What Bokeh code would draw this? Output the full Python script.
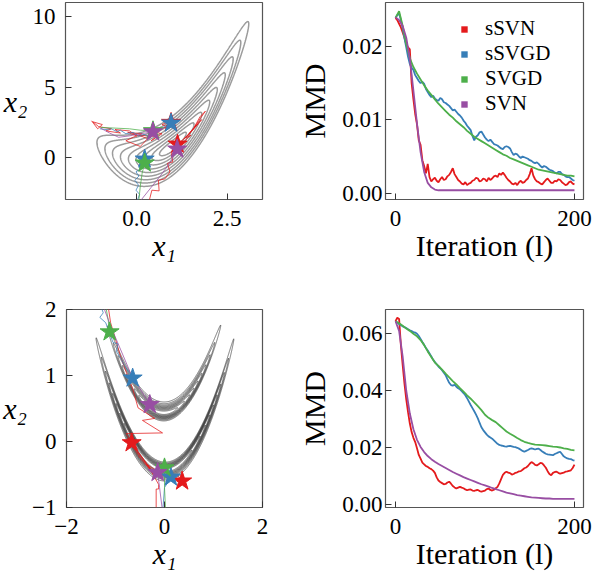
import numpy as np
from bokeh.plotting import figure
from bokeh.layouts import row, column
from bokeh.models import Range1d, FixedTicker, NumeralTickFormatter, Legend, LegendItem
from bokeh.embed import file_html
from bokeh.resources import INLINE

RED, BLUE, GREEN, PURPLE = "#e41a1c", "#377eb8", "#4daf4a", "#984ea3"
SERIF = "Liberation Serif"
methods = ["sSVN", "sSVGD", "SVGD", "SVN"]
colors = [RED, BLUE, GREEN, PURPLE]

# ---------------- MMD data ----------------
iters = list(range(0, 201, 4))        # smooth deterministic methods
iters_fine = list(range(0, 201, 2))   # noisy stochastic methods

mmd_top_sSVN = [0.0239, 0.0236, 0.0231, 0.0226, 0.0219, 0.0212, 0.0203, 0.0199, 0.0196, 0.0150,
                0.0128, 0.0108, 0.0094, 0.0072, 0.0066, 0.0045, 0.0037, 0.0027, 0.0040, 0.0022,
                0.0016, 0.0019, 0.0021, 0.0017, 0.0015, 0.0019, 0.0022, 0.0018, 0.0019, 0.0023,
                0.0025, 0.0029, 0.0034, 0.0026, 0.0022, 0.0018, 0.0016, 0.0013, 0.0012, 0.0015,
                0.0011, 0.0013, 0.0014, 0.0017, 0.0018, 0.0021, 0.0020, 0.0016, 0.0017, 0.0020,
                0.0019, 0.0016, 0.0021, 0.0018, 0.0020, 0.0023, 0.0024, 0.0022, 0.0027, 0.0025,
                0.0028, 0.0025, 0.0021, 0.0018, 0.0016, 0.0013, 0.0012, 0.0014, 0.0011, 0.0015,
                0.0017, 0.0014, 0.0015, 0.0018, 0.0020, 0.0026, 0.0034, 0.0024, 0.0019, 0.0016,
                0.0015, 0.0013, 0.0012, 0.0015, 0.0018, 0.0020, 0.0017, 0.0014, 0.0014, 0.0017,
                0.0016, 0.0019, 0.0018, 0.0015, 0.0013, 0.0011, 0.0012, 0.0015, 0.0016, 0.0013,
                0.0012]
mmd_top_sSVGD = [0.0239, 0.0243, 0.0245, 0.0236, 0.0225, 0.0211, 0.0199, 0.0186, 0.0176, 0.0171,
                 0.0168, 0.0161, 0.0157, 0.0153, 0.0150, 0.0152, 0.0149, 0.0142, 0.0138, 0.0134,
                 0.0131, 0.0133, 0.0129, 0.0127, 0.0126, 0.0130, 0.0128, 0.0124, 0.0123, 0.0121,
                 0.0119, 0.0116, 0.0113, 0.0114, 0.0111, 0.0108, 0.0106, 0.0103, 0.0099, 0.0096,
                 0.0092, 0.0089, 0.0086, 0.0078, 0.0072, 0.0077, 0.0079, 0.0083, 0.0084, 0.0080,
                 0.0076, 0.0073, 0.0071, 0.0073, 0.0070, 0.0067, 0.0066, 0.0065, 0.0063, 0.0061,
                 0.0060, 0.0063, 0.0064, 0.0063, 0.0061, 0.0056, 0.0052, 0.0054, 0.0053, 0.0050,
                 0.0048, 0.0050, 0.0049, 0.0048, 0.0047, 0.0045, 0.0044, 0.0042, 0.0041, 0.0042,
                 0.0040, 0.0037, 0.0035, 0.0037, 0.0036, 0.0034, 0.0032, 0.0031, 0.0030, 0.0028,
                 0.0027, 0.0029, 0.0029, 0.0026, 0.0025, 0.0023, 0.0022, 0.0022, 0.0020, 0.0018,
                 0.0017]
mmd_top_SVGD = [0.0239, 0.0248, 0.0228, 0.0203, 0.0184, 0.0172, 0.0163, 0.0155, 0.0147, 0.0140,
                0.0134, 0.0128, 0.0122, 0.0117, 0.0112, 0.0107, 0.0103, 0.0098, 0.0094, 0.0090,
                0.0085, 0.0081, 0.0077, 0.0074, 0.0071, 0.0068, 0.0065, 0.0062, 0.0059, 0.0056,
                0.0053, 0.0051, 0.0048, 0.0046, 0.0044, 0.0042, 0.0040, 0.0038, 0.0036, 0.0034,
                0.0032, 0.0031, 0.0030, 0.0029, 0.0028, 0.0027, 0.0026, 0.0025, 0.0024, 0.0024,
                0.0023]
mmd_top_SVN = [0.0240, 0.0236, 0.0228, 0.0212, 0.0183, 0.0140, 0.0095, 0.0056, 0.0029, 0.0014,
               0.0008, 0.0005, 0.0004, 0.0004, 0.0004, 0.0004, 0.0004, 0.0004, 0.0004, 0.0004,
               0.0004, 0.0004, 0.0004, 0.0004, 0.0004, 0.0004, 0.0004, 0.0004, 0.0004, 0.0004,
               0.0004, 0.0004, 0.0004, 0.0004, 0.0004, 0.0004, 0.0004, 0.0004, 0.0004, 0.0004,
               0.0004, 0.0004, 0.0004, 0.0004, 0.0004, 0.0004, 0.0004, 0.0004, 0.0004, 0.0004,
               0.0004]

mmd_bot_sSVN = [0.0644, 0.0656, 0.0652, 0.0560, 0.0490, 0.0425, 0.0370, 0.0325, 0.0285, 0.0255,
                0.0235, 0.0220, 0.0198, 0.0175, 0.0162, 0.0148, 0.0142, 0.0136, 0.0133, 0.0128,
                0.0125, 0.0120, 0.0112, 0.0096, 0.0085, 0.0080, 0.0076, 0.0072, 0.0073, 0.0078,
                0.0081, 0.0074, 0.0066, 0.0061, 0.0057, 0.0060, 0.0063, 0.0060, 0.0058, 0.0054,
                0.0051, 0.0053, 0.0054, 0.0050, 0.0049, 0.0051, 0.0052, 0.0048, 0.0046, 0.0048,
                0.0050, 0.0055, 0.0057, 0.0052, 0.0050, 0.0053, 0.0058, 0.0063, 0.0075, 0.0090,
                0.0105, 0.0112, 0.0116, 0.0113, 0.0111, 0.0106, 0.0108, 0.0112, 0.0114, 0.0117,
                0.0118, 0.0123, 0.0128, 0.0131, 0.0136, 0.0144, 0.0150, 0.0146, 0.0140, 0.0138,
                0.0142, 0.0147, 0.0145, 0.0138, 0.0130, 0.0118, 0.0108, 0.0104, 0.0112, 0.0115,
                0.0116, 0.0112, 0.0109, 0.0111, 0.0113, 0.0116, 0.0117, 0.0119, 0.0121, 0.0129,
                0.0141]
mmd_bot_sSVGD = [0.0644, 0.0639, 0.0634, 0.0630, 0.0626, 0.0623, 0.0620, 0.0616, 0.0612, 0.0609,
                 0.0606, 0.0604, 0.0600, 0.0592, 0.0582, 0.0571, 0.0561, 0.0550, 0.0541, 0.0531,
                 0.0520, 0.0509, 0.0501, 0.0493, 0.0485, 0.0479, 0.0472, 0.0463, 0.0455, 0.0441,
                 0.0428, 0.0420, 0.0418, 0.0421, 0.0414, 0.0409, 0.0405, 0.0399, 0.0392, 0.0384,
                 0.0374, 0.0362, 0.0350, 0.0339, 0.0328, 0.0316, 0.0303, 0.0287, 0.0272, 0.0262,
                 0.0254, 0.0246, 0.0240, 0.0236, 0.0232, 0.0226, 0.0220, 0.0214, 0.0210, 0.0208,
                 0.0207, 0.0205, 0.0204, 0.0206, 0.0207, 0.0205, 0.0203, 0.0202, 0.0200, 0.0197,
                 0.0193, 0.0189, 0.0186, 0.0189, 0.0192, 0.0196, 0.0198, 0.0196, 0.0194, 0.0196,
                 0.0197, 0.0192, 0.0187, 0.0183, 0.0179, 0.0177, 0.0176, 0.0175, 0.0174, 0.0178,
                 0.0181, 0.0184, 0.0186, 0.0178, 0.0170, 0.0166, 0.0163, 0.0161, 0.0160, 0.0157,
                 0.0155]
mmd_bot_SVGD = [0.0644, 0.0637, 0.0628, 0.0618, 0.0610, 0.0600, 0.0591, 0.0578, 0.0560, 0.0538,
                0.0518, 0.0499, 0.0487, 0.0474, 0.0460, 0.0447, 0.0434, 0.0422, 0.0409, 0.0397,
                0.0384, 0.0372, 0.0359, 0.0346, 0.0332, 0.0316, 0.0305, 0.0297, 0.0290, 0.0279,
                0.0268, 0.0257, 0.0249, 0.0242, 0.0234, 0.0227, 0.0221, 0.0217, 0.0214, 0.0211,
                0.0210, 0.0209, 0.0208, 0.0206, 0.0204, 0.0203, 0.0201, 0.0198, 0.0196, 0.0193,
                0.0191]
mmd_bot_SVN = [0.0644, 0.0610, 0.0520, 0.0400, 0.0320, 0.0265, 0.0228, 0.0203, 0.0185, 0.0171,
               0.0160, 0.0151, 0.0143, 0.0136, 0.0129, 0.0122, 0.0115, 0.0109, 0.0103, 0.0097,
               0.0092, 0.0087, 0.0082, 0.0077, 0.0072, 0.0068, 0.0064, 0.0059, 0.0055, 0.0051,
               0.0047, 0.0043, 0.0040, 0.0037, 0.0034, 0.0032, 0.0030, 0.0028, 0.0026, 0.0025,
               0.0024, 0.0023, 0.0022, 0.0022, 0.0021, 0.0021, 0.0021, 0.0021, 0.0021, 0.0021,
               0.0021]

# ---------------- particle trajectories (x1 list, x2 list) ----------------
top_traj = {
    "sSVN": [([-1.25, -1.08, -0.95, -1.22, -1.05, -0.7, -0.85, -0.45, -0.6, -0.2, 0.0, -0.25, 0.15, -0.1, -0.3, 0.1, 0.3, 0.05,
               0.55, 0.4, 0.7, 0.45, 0.6, 0.85, 0.7, 1.0, 0.95],
              [2.62, 2.05, 2.35, 2.55, 2.2, 2.05, 1.9, 1.75, 2.0, 1.9, 1.55, 1.8, 1.7, 1.45, 1.2, 0.8, 1.35, 1.6,
               1.5, 1.2, 1.7, 1.85, 2.0, 2.2, 2.35, 2.7, 2.5]),
             ([0.35, 0.42, 0.62, 0.6, 0.78, 0.92, 0.85, 1.0, 0.95, 1.2, 1.5, 1.35, 1.7, 1.55, 1.9, 1.75, 1.6, 1.8, 1.45,
               1.65, 1.3, 1.5, 1.2, 1.13],
              [-3.0, -2.3, -2.35, -1.6, -1.5, -1.0, -0.4, -0.3, 0.4, 0.9, 1.6, 1.4, 2.4, 2.0, 3.3, 2.9, 2.2, 2.7, 1.7,
               2.3, 1.3, 1.8, 1.1, 0.96])],
    "sSVGD": [([-1.02, -0.85, -0.7, -0.55, -0.45, -0.3, -0.1, 0.05, 0.2, 0.35, 0.5, 0.65, 0.8, 0.95],
               [2.05, 2.0, 2.05, 1.85, 1.95, 1.7, 1.8, 1.55, 1.65, 1.5, 1.75, 2.0, 2.25, 2.45]),
              ([0.02, 0.08, -0.02, 0.05, -0.05, 0.06, -0.02, 0.1, 0.05, 0.18, 0.22],
               [-3.0, -2.6, -2.3, -1.95, -1.6, -1.3, -1.0, -0.8, -0.55, -0.4, -0.1])],
    "SVGD": [([-1.0, -0.6, -0.2, 0.1, 0.45], [2.15, 2.1, 2.05, 1.95, 1.91]),
             ([0.06, 0.1, 0.15, 0.22], [-3.0, -2.0, -1.1, -0.38])],
    "SVN": [([-1.0, -0.75, -0.5, -0.2, 0.1, 0.45], [2.1, 1.75, 1.45, 1.55, 1.7, 1.83]),
            ([0.12, 0.4, 0.65, 0.85, 1.0, 1.12], [-3.0, -2.1, -1.3, -0.6, 0.0, 0.61])],
}
top_final_x1 = {"sSVN": [0.95, 1.13], "sSVGD": [0.95, 0.22], "SVGD": [0.45, 0.22], "SVN": [0.45, 1.12]}
top_final_x2 = {"sSVN": [2.5, 0.96], "sSVGD": [2.45, -0.1], "SVGD": [1.91, -0.38], "SVN": [1.83, 0.61]}

bot_traj = {
    "sSVN": [([-1.15, -1.1, -1.0, -0.9, -0.78, -0.65, -0.54, -0.2, -0.45, -0.04, -0.78, -0.67],
              [2.05, 1.8, 1.55, 1.3, 1.05, 0.8, 0.51, 0.35, 0.32, 0.13, 0.12, -0.02]),
             ([-0.17, -0.17, -0.12, -0.12, -0.35, -0.6, -0.75, -0.5, -0.3, -0.55, -0.2, -0.35, 0.05, 0.25, 0.36],
              [-1.0, -0.72, -0.72, -0.65, -0.35, -0.1, 0.05, -0.25, -0.42, -0.15, -0.5, -0.35, -0.55, -0.5, -0.6])],
    "sSVGD": [([-1.3, -1.25, -1.32, -1.2, -1.15, -1.05, -0.95, -0.98, -0.88, -0.82, -0.72, -0.65],
               [2.05, 1.95, 1.88, 1.8, 1.7, 1.5, 1.48, 1.36, 1.25, 1.15, 1.05, 0.96]),
              ([-0.03, 0.0, 0.13], [-1.0, -0.7, -0.54])],
    "SVGD": [([-1.2, -1.15, -1.12], [2.05, 1.85, 1.66]),
             ([0.02, 0.0, 0.0], [-1.0, -0.7, -0.4])],
    "SVN": [([-1.25, -1.1, -0.9, -0.7, -0.5, -0.3], [2.05, 1.75, 1.4, 1.05, 0.8, 0.56]),
            ([-0.05, -0.1, -0.14], [-1.0, -0.7, -0.47])],
}
bot_final_x1 = {"sSVN": [-0.67, 0.36], "sSVGD": [-0.65, 0.13], "SVGD": [-1.12, 0.0], "SVN": [-0.30, -0.14]}
bot_final_x2 = {"sSVN": [-0.02, -0.60], "sSVGD": [0.96, -0.54], "SVGD": [1.66, -0.40], "SVN": [0.56, -0.47]}

# ---------------- target densities (for contour lines) ----------------
ros_mu, ros_b, ros_shift = 1.0, 1.0, 0.13
ros_levels = [0.37 ** 2, 0.585 ** 2, 0.80 ** 2, 1.02 ** 2, 1.23 ** 2, 1.45 ** 2, 1.67 ** 2, 1.88 ** 2, 2.1 ** 2]
db_y, db_sigma = 3.0, 0.3
db_levels = [0.12, 0.21, 0.30, 0.39, 0.48, 0.57, 0.66, 0.75, 0.84, 0.93]

TICK_FS, LABEL_FS = "23px", "30px"


def style(p, xticks, yticks, ystandoff):
    p.grid.visible = False
    p.outline_line_color = "#555555"
    p.outline_line_width = 1.2
    p.background_fill_color = "white"
    p.border_fill_color = "white"
    p.xaxis.ticker = FixedTicker(ticks=xticks)
    p.yaxis.ticker = FixedTicker(ticks=yticks)
    for ax in list(p.xaxis) + list(p.yaxis):
        ax.axis_line_color = None
        ax.major_tick_in = 6
        ax.major_tick_out = 0
        ax.minor_tick_line_color = None
        ax.major_tick_line_color = "#333333"
        ax.major_tick_line_width = 1
        ax.major_label_text_font = SERIF
        ax.major_label_text_font_size = TICK_FS
        ax.major_label_text_color = "black"
        ax.axis_label_text_font = SERIF
        ax.axis_label_text_font_size = LABEL_FS
        ax.axis_label_text_font_style = "normal"
        ax.axis_label_text_color = "black"
    p.xaxis.major_label_standoff = 11
    p.xaxis.axis_label_standoff = 0
    p.yaxis.major_label_standoff = ystandoff


TOP_H, BOT_H = 288, 288
LEFT_W, RIGHT_W = 290, 302

# ---- top-left: banana ----
p1 = figure(width=LEFT_W, height=TOP_H, x_range=Range1d(-1.97, 3.48), y_range=Range1d(-2.96, 11.0),
            output_backend="svg", toolbar_location=None,
            min_border_left=63, min_border_right=28, min_border_top=2, min_border_bottom=89)
style(p1, [0, 2.5], [0, 5, 10], 10)
p1.xaxis.formatter = NumeralTickFormatter(format="0.0")
gx = np.linspace(-2.0, 3.5, 440)
gy = np.linspace(-3.0, 11.0, 560)
X, Y = np.meshgrid(gx, gy)
Z1 = (X - ros_mu) ** 2 + ros_b * (Y - X ** 2 + ros_shift) ** 2
p1.contour(gx, gy, Z1, ros_levels, line_color="#9c9c9c", line_width=1.5)

# ---- bottom-left: double banana ----
p3 = figure(width=LEFT_W, height=BOT_H, x_range=Range1d(-2, 2), y_range=Range1d(-1, 2),
            output_backend="svg", toolbar_location=None,
            min_border_left=63, min_border_right=28, min_border_top=21, min_border_bottom=69)
style(p3, [-2, 0, 2], [-1, 0, 1, 2], 10)
p3.xaxis.major_label_overrides = {-2: "\u22122", 0: "0", 2: "2"}
p3.yaxis.major_label_overrides = {-1: "\u22121", 0: "0", 1: "1", 2: "2"}
hx = np.linspace(-2.0, 2.0, 600)
hy = np.linspace(-1.0, 2.0, 600)
HX, HY = np.meshgrid(hx, hy)
F = np.log((1 - HX) ** 2 + 100 * (HY - HX ** 2) ** 2)
logp = -(db_y - F) ** 2 / (2 * db_sigma ** 2) - (HX ** 2 + HY ** 2) / 2
Z3 = np.exp(logp - logp.max())
p3.contour(hx, hy, Z3, db_levels, line_color="#222222", line_alpha=0.6, line_width=1.0)

for p, traj, fx, fy in ((p1, top_traj, top_final_x1, top_final_x2), (p3, bot_traj, bot_final_x1, bot_final_x2)):
    for m, c in zip(methods, colors):
        for xs, ys in traj[m]:
            p.line(xs, ys, line_color=c, line_width=0.9, line_alpha=0.85)
    for m, c in zip(methods, colors):
        p.scatter(fx[m], fy[m], marker="star", size=20, fill_color=c, line_color=c, line_width=1)
    p.xaxis.axis_label = "x\u2081"
    p.yaxis.axis_label = "x\u2082"
    p.xaxis.axis_label_text_font_style = "italic"
    p.yaxis.axis_label_text_font_style = "italic"
    p.yaxis.axis_label_orientation = "horizontal"
    p.yaxis.axis_label_standoff = 2

# ---- right column: MMD ----
p2 = figure(width=RIGHT_W, height=TOP_H, x_range=Range1d(-11.2, 210.1), y_range=Range1d(-0.00086, 0.026),
            output_backend="svg", toolbar_location=None,
            min_border_left=95, min_border_right=9, min_border_top=2, min_border_bottom=89)
style(p2, [0, 200], [0, 0.01, 0.02], 3)
p2.yaxis.formatter = NumeralTickFormatter(format="0.00")

p4 = figure(width=RIGHT_W, height=BOT_H, x_range=Range1d(-11.2, 210.1), y_range=Range1d(-0.00095, 0.0685),
            output_backend="svg", toolbar_location=None,
            min_border_left=95, min_border_right=9, min_border_top=21, min_border_bottom=69)
style(p4, [0, 200], [0, 0.02, 0.04, 0.06], 3)
p4.yaxis.formatter = NumeralTickFormatter(format="0.00")

top_series = [mmd_top_sSVN, mmd_top_sSVGD, mmd_top_SVGD, mmd_top_SVN]
bot_series = [mmd_bot_sSVN, mmd_bot_sSVGD, mmd_bot_SVGD, mmd_bot_SVN]
x_for = [iters_fine, iters_fine, iters, iters]
for p, series in ((p2, top_series), (p4, bot_series)):
    for xs, vals, c in zip(x_for, series, colors):
        p.line(xs, vals, line_color=c, line_width=1.8)
    p.xaxis.axis_label = "Iteration (l)"
    p.yaxis.axis_label = "MMD"
    p.yaxis.axis_label_standoff = 8

# legend proxies: zero-size square markers on each series' first point (legend draws its own size)
items = []
for m, c, xs, vals in zip(methods, colors, x_for, top_series):
    r = p2.scatter(x=xs[:1], y=vals[:1], marker="square", size=0, fill_color=c, line_color=None)
    items.append(LegendItem(label=m, renderers=[r]))
leg = Legend(items=items, location=(71, 83), orientation="vertical",
             label_text_font=SERIF, label_text_font_size="21px", label_text_color="black",
             label_height=21, glyph_width=16, glyph_height=16, label_standoff=13, spacing=0,
             padding=0, margin=0, border_line_color=None, background_fill_alpha=0)
p2.add_layout(leg, "center")

layout = column(row(p1, p2), row(p3, p4))
open("out.html", "w").write(file_html(layout, INLINE))
